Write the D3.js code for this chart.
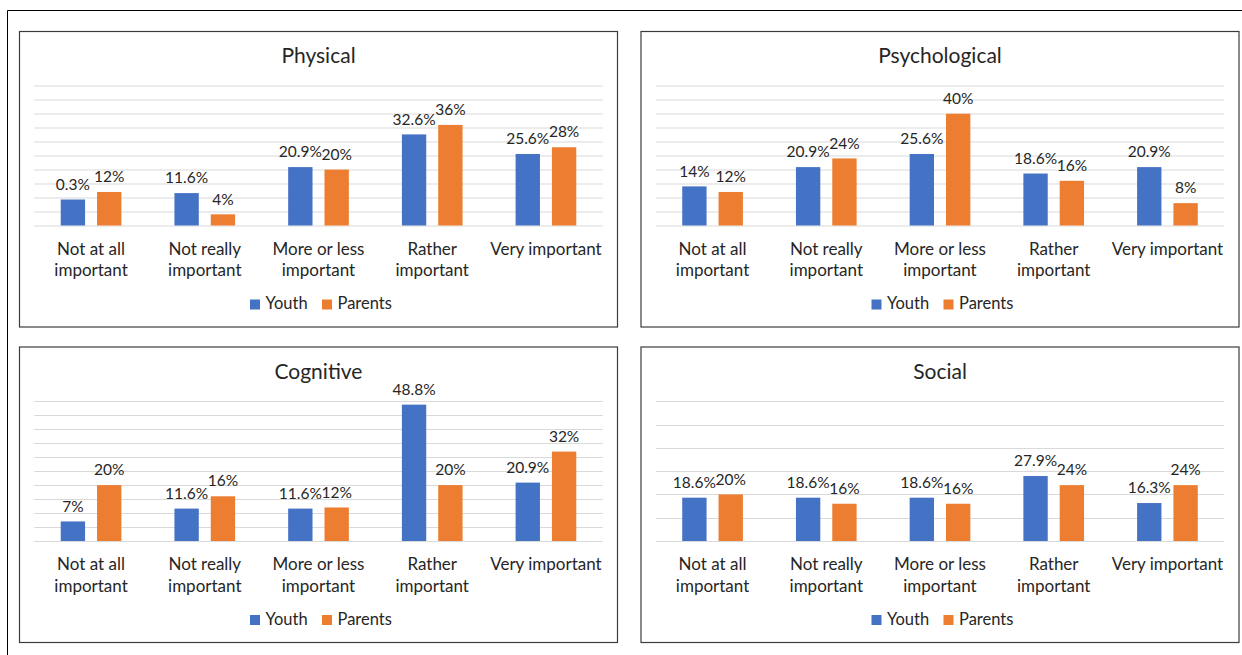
<!DOCTYPE html>
<html>
<head>
<meta charset="utf-8">
<script src="https://cdn.jsdelivr.net/npm/d3@7"></script>
<style>
  html, body { margin: 0; padding: 0; background: #fff; }
  svg { display: block; }
  text { font-family: Lato, "Open Sans", sans-serif; fill: #262626; }
</style>
</head>
<body>
<svg id="chart" width="1242" height="655"></svg>
<script>
// ---- data ----
const categories = ["Not at all important", "Not really important", "More or less important", "Rather important", "Very important"];
const categoryLines = [["Not at all", "important"], ["Not really", "important"], ["More or less", "important"], ["Rather", "important"], ["Very important"]];
const seriesNames = ["Youth", "Parents"];
const panelTitles = ["Physical", "Psychological", "Cognitive", "Social"];
const axisMax = [50, 50, 50, 60];
const axisStep = [5, 5, 5, 10];

const physicalYouth = [9.3, 11.6, 20.9, 32.6, 25.6];
const physicalParents = [12, 4, 20, 36, 28];
const physicalYouthLabels = ["0.3%", "11.6%", "20.9%", "32.6%", "25.6%"];
const physicalParentsLabels = ["12%", "4%", "20%", "36%", "28%"];

const psychologicalYouth = [14, 20.9, 25.6, 18.6, 20.9];
const psychologicalParents = [12, 24, 40, 16, 8];
const psychologicalYouthLabels = ["14%", "20.9%", "25.6%", "18.6%", "20.9%"];
const psychologicalParentsLabels = ["12%", "24%", "40%", "16%", "8%"];

const cognitiveYouth = [7, 11.6, 11.6, 48.8, 20.9];
const cognitiveParents = [20, 16, 12, 20, 32];
const cognitiveYouthLabels = ["7%", "11.6%", "11.6%", "48.8%", "20.9%"];
const cognitiveParentsLabels = ["20%", "16%", "12%", "20%", "32%"];

const socialYouth = [18.6, 18.6, 18.6, 27.9, 16.3];
const socialParents = [20, 16, 16, 24, 24];
const socialYouthLabels = ["18.6%", "18.6%", "18.6%", "27.9%", "16.3%"];
const socialParentsLabels = ["20%", "16%", "16%", "24%", "24%"];

const panelData = [
  [physicalYouth, physicalParents, physicalYouthLabels, physicalParentsLabels],
  [psychologicalYouth, psychologicalParents, psychologicalYouthLabels, psychologicalParentsLabels],
  [cognitiveYouth, cognitiveParents, cognitiveYouthLabels, cognitiveParentsLabels],
  [socialYouth, socialParents, socialYouthLabels, socialParentsLabels]
];

// ---- layout ----
const colors = { Youth: "#4472C4", Parents: "#ED7D31" };
const panelW = 598, panelH = 295.5;
const panelPos = [[19.5, 31.5], [641, 31.5], [19.5, 347], [641, 347]];
const plotLeft = 14.7, plotRight = panelW - 14.7;
const plotTop = 54.3, plotBottom = 194;

const svg = d3.select("#chart");

// outer frame
svg.append("path")
  .attr("d", "M7.5,656 V10.5 H1243")
  .attr("fill", "none")
  .attr("stroke", "#000")
  .attr("stroke-width", 1);

panelTitles.forEach((title, pi) => {
  const [youth, parents, youthLabels, parentsLabels] = panelData[pi];
  const g = svg.append("g").attr("transform", `translate(${panelPos[pi][0]},${panelPos[pi][1]})`);

  g.append("rect")
    .attr("x", 0).attr("y", 0)
    .attr("width", panelW).attr("height", panelH)
    .attr("fill", "#fff")
    .attr("stroke", "#3c3c3c")
    .attr("stroke-width", 1.2);

  const x = d3.scaleBand().domain(categories).range([plotLeft, plotRight]).padding(0);
  const xs = d3.scaleBand().domain(seriesNames).range([0, x.bandwidth()])
    .paddingInner(0.33).paddingOuter(0.73);
  const y = d3.scaleLinear().domain([0, axisMax[pi]]).range([plotBottom, plotTop]);

  // gridlines
  const ticks = d3.range(0, axisMax[pi] + axisStep[pi] / 2, axisStep[pi]);
  g.append("g").selectAll("line").data(ticks).join("line")
    .attr("x1", plotLeft).attr("x2", plotRight)
    .attr("y1", d => Math.round(y(d)) + 0.5).attr("y2", d => Math.round(y(d)) + 0.5)
    .attr("stroke", "#d9d9d9").attr("stroke-width", 1);

  // title
  g.append("text")
    .attr("x", panelW / 2).attr("y", 31.8)
    .attr("text-anchor", "middle")
    .style("font-size", "21px")
    .text(title);

  const rows = categories.map((c, i) => ({ c, i, vals: [
    { s: "Youth", v: youth[i], label: youthLabels[i] },
    { s: "Parents", v: parents[i], label: parentsLabels[i] }
  ]}));

  const cg = g.append("g").selectAll("g").data(rows).join("g")
    .attr("transform", d => `translate(${x(d.c)},0)`);

  cg.selectAll("rect").data(d => d.vals).join("rect")
    .attr("x", d => xs(d.s))
    .attr("width", xs.bandwidth())
    .attr("y", d => y(d.v))
    .attr("height", d => y(0) - y(d.v))
    .attr("fill", d => colors[d.s]);

  cg.selectAll("text.lbl").data(d => d.vals).join("text")
    .attr("class", "lbl")
    .attr("x", d => xs(d.s) + xs.bandwidth() / 2)
    .attr("y", d => y(d.v) - 9.8)
    .attr("text-anchor", "middle")
    .style("font-size", "15.5px")
    .text(d => d.label);

  // category labels
  const axis = g.append("g").attr("transform", `translate(0,${plotBottom})`)
    .call(d3.axisBottom(x).tickSize(0).tickFormat(""));
  axis.select(".domain").remove();
  axis.selectAll(".tick").each(function (c) {
    const lines = categoryLines[categories.indexOf(c)];
    const t = d3.select(this).append("text")
      .attr("text-anchor", "middle")
      .style("font-size", "17px")
      .style("fill", "#262626");
    lines.forEach((ln, k) => {
      t.append("tspan").attr("x", 0).attr("y", 29 + k * 21.7).text(ln);
    });
  });

  // legend
  const lg = g.append("g").attr("transform", "translate(230.5,0)");
  const legendOffsets = [0, 72];
  seriesNames.forEach((s, k) => {
    const item = lg.append("g").attr("transform", `translate(${legendOffsets[k]},0)`);
    item.append("rect").attr("x", 0).attr("y", 268).attr("width", 10).attr("height", 10).attr("fill", colors[s]);
    item.append("text").attr("x", 15.5).attr("y", 277.8).style("font-size", "16.5px").text(s);
  });
});
</script>
</body>
</html>
